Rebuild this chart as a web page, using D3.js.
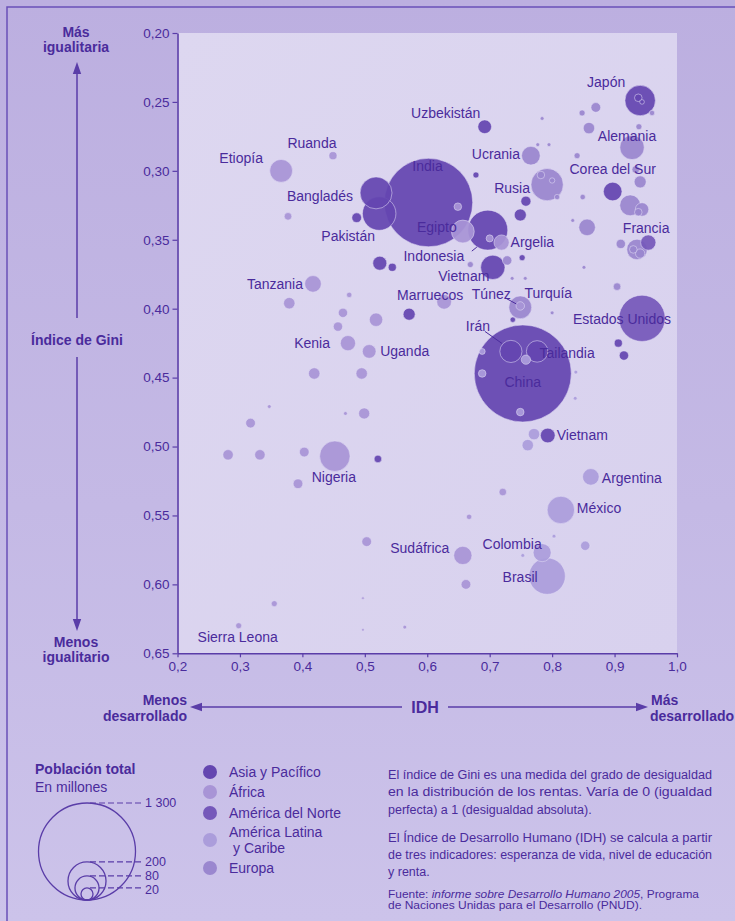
<!DOCTYPE html>
<html><head><meta charset="utf-8">
<script src="https://cdn.jsdelivr.net/npm/d3@7"></script>
<style>body{margin:0;background:#c4b9e4}svg{display:block}</style>
</head><body><svg id="chart" width="735" height="921"></svg>
<script>
// ---------- DATA ----------
const regionNames = ["Asia y Pacífico", "África", "América del Norte", "América Latina|y Caribe", "Europa"];
const regionColors = ["#6446b0", "#a894d6", "#7558ba", "#ab9ddb", "#9a87cf"];

// Labelled countries
const labeledNames  = ["Japón","Uzbekistán","Ruanda","Alemania","Etiopía","Ucrania","Corea del Sur","Bangladés","India","Rusia","Egipto","Francia","Pakistán","Argelia","Indonesia","Vietnam","Tanzania","Túnez","Turquía","Marruecos","Estados Unidos","Irán","Kenia","Uganda","Tailandia","China","Vietnam","Argentina","Nigeria","México","Sudáfrica","Colombia","Brasil","Sierra Leona"];
const labeledIdh    = [0.941,0.692,0.449,0.928,0.366,0.766,0.897,0.518,0.602,0.792,0.657,0.925,0.523,0.719,0.697,0.705,0.417,0.749,0.749,0.627,0.944,0.734,0.473,0.507,0.776,0.753,0.793,0.862,0.452,0.814,0.657,0.784,0.792,0.298];
const labeledGini   = [0.249,0.268,0.289,0.283,0.300,0.289,0.315,0.316,0.323,0.310,0.344,0.325,0.331,0.352,0.343,0.370,0.382,0.398,0.399,0.395,0.407,0.431,0.425,0.431,0.431,0.447,0.492,0.522,0.507,0.546,0.579,0.577,0.594,0.630];
const labeledPop    = [128,26,9,82,72,48,48,141,1080,144,72,60,155,32,220,82,38,10,72,30,295,68,32,26,64,1300,30,38,128,104,46,45,183,5];
const labeledRegion = [0,0,1,4,1,4,0,0,0,4,1,4,0,1,0,0,1,1,4,1,2,0,1,1,0,0,0,3,1,3,1,3,3,1];

// Unlabelled countries
const otherIdh    = [0.487,0.524,0.544,0.571,0.758,0.749,0.678,0.752,0.906,0.915,0.521,0.737,0.938,0.944,
                     0.954,
                     0.782,0.800,0.808,0.870,0.848,0.784,0.859,0.939,0.960,0.777,0.795,0.840,0.941,0.934,0.849,0.944,0.938,0.833,0.856,0.910,0.936,0.930,0.941,0.851,0.904,0.800,0.736,0.757,0.728,0.669,
                     0.377,0.379,0.475,0.465,0.457,0.518,0.419,0.495,0.347,0.317,0.469,0.499,0.281,0.332,0.403,0.393,0.503,0.662,0.667,0.355,0.497,0.497,0.564,0.649,0.700,0.721,
                     0.853,0.803,0.753,0.838,0.837,0.688,0.749,0.758,0.688,0.771,0.761];
const otherGini   = [0.334,0.367,0.370,0.404,0.322,0.332,0.303,0.363,0.425,0.434,0.509,0.408,0.247,0.250,
                     0.352,
                     0.303,0.307,0.319,0.254,0.258,0.262,0.269,0.268,0.258,0.281,0.281,0.289,0.308,0.299,0.319,0.328,0.330,0.336,0.341,0.353,0.357,0.357,0.360,0.370,0.384,0.403,0.378,0.378,0.365,0.368,
                     0.333,0.396,0.390,0.403,0.413,0.408,0.447,0.447,0.471,0.483,0.476,0.476,0.506,0.506,0.504,0.527,0.569,0.600,0.551,0.614,0.610,0.633,0.631,0.326,0.349,0.533,
                     0.572,0.565,0.579,0.446,0.465,0.447,0.475,0.437,0.431,0.491,0.499];
const otherPop    = [13,27,9,20,14,20,5,5,9,12,8,4,8,3,
                     32,
                     8,4,4,13,5,2,18,5,4,2,2,5,20,8,4,25,8,2,38,12,58,8,12,2,8,2,2,2,12,5,
                     8,18,4,12,12,25,18,18,2,13,2,17,15,15,13,13,13,13,4,5,1,1,2,8,7,8,
                     12,2,2,2,2,8,8,12,5,18,18];
const otherRegion = [0,0,0,0,0,0,0,0,0,0,0,0,0,0,
                     2,
                     4,4,4,4,4,4,4,4,4,4,4,4,4,4,4,4,4,4,4,4,4,4,4,4,4,4,4,4,4,4,
                     1,1,1,1,1,1,1,1,1,1,1,1,1,1,1,1,1,1,1,1,1,1,1,1,1,1,
                     3,3,3,3,3,3,3,3,3,3,3];

const xTicks = [0.2,0.3,0.4,0.5,0.6,0.7,0.8,0.9,1.0];
const yTicks = [0.20,0.25,0.30,0.35,0.40,0.45,0.50,0.55,0.60,0.65];
const legendSizes = [1300, 200, 80, 20];
const legendSizeLabels = ["1 300", "200", "80", "20"];

// ---------- LABEL PLACEMENT (pixel offsets from bubble centre) ----------
const labelDx     = [-34,-39,-21,-5,-40,-35,0,-56,-1,-35,-26,16,-31,9,-54,-29,-10,-29,28,-14,-20,-33,-18,11,30,0,9,11,-1,16,-43,-30,-27,-1];
const labelDy     = [-18,-14,-13,-11,-13,-2,-22,3,-36,3,-4,23,23,0,26,9,0,-12,-14,-7,1,-25,0,0,2,9,0,1,21,-2,-7,-9,1,11];
const labelAnchor = ["middle","middle","middle","middle","middle","middle","middle","middle","middle","middle","middle","middle","middle","start","middle","middle","end","middle","middle","middle","middle","middle","end","start","middle","middle","start","start","middle","start","middle","middle","middle","middle"];
// leader lines: [label index, x1, y1, x2, y2] offsets from bubble centre
const leaders = [[21,-26,-20,-9,-8],[17,-15,-8,-4,-2],[14,-16,21,-11,17]];

// ---------- DRAWING ----------
const svg = d3.select("#chart");
const W = 735, H = 921;
const TXT = "#4a2b9c", AX = "#5a3da8";
const FONT = "'Liberation Sans', Arial, Helvetica, sans-serif";

const defs = svg.append("defs");
const bg = defs.append("linearGradient").attr("id","bg").attr("x1",0).attr("y1",0).attr("x2",0).attr("y2",1);
bg.append("stop").attr("offset","0%").attr("stop-color","#bcafe0");
bg.append("stop").attr("offset","55%").attr("stop-color","#c4b9e5");
bg.append("stop").attr("offset","100%").attr("stop-color","#ccc3ea");
const pg = defs.append("linearGradient").attr("id","panel").attr("x1",0).attr("y1",0).attr("x2",1).attr("y2",1);
pg.append("stop").attr("offset","0%").attr("stop-color","#ddd7f0");
pg.append("stop").attr("offset","100%").attr("stop-color","#d8d1ee");
defs.append("marker").attr("id","arrow").attr("viewBox","0 0 10 10").attr("refX",5).attr("refY",5)
  .attr("markerWidth",8).attr("markerHeight",8).attr("orient","auto-start-reverse")
  .append("path").attr("d","M0,1.5 L10,5 L0,8.5 z").attr("fill",AX);

svg.append("rect").attr("width",W).attr("height",H).attr("fill","url(#bg)");
svg.append("path").attr("d",`M7,${H} L7,7 L${W},7`).attr("fill","none").attr("stroke","#6a50b8").attr("stroke-width",1.5);

const x = d3.scaleLinear().domain([0.2,1.0]).range([177.5,677]);
const y = d3.scaleLinear().domain([0.20,0.65]).range([33,653.3]);
const r = d3.scaleSqrt().domain([0,1300]).range([0,48.5]);

svg.append("rect").attr("x",x(0.2)).attr("y",y(0.20)).attr("width",x(1.0)-x(0.2)).attr("height",y(0.65)-y(0.20)).attr("fill","url(#panel)");

const loc = d3.formatLocale({decimal:",", thousands:" ", grouping:[3], currency:["",""]});

const gy = svg.append("g").attr("transform",`translate(${x(0.2)},0)`)
  .call(d3.axisLeft(y).tickValues(yTicks).tickFormat(loc.format(".2f")).tickSize(5).tickPadding(3).tickSizeOuter(0));
const gx = svg.append("g").attr("transform",`translate(0,${y(0.65)})`)
  .call(d3.axisBottom(x).tickValues(xTicks).tickFormat(loc.format(".1f")).tickSize(4).tickPadding(4).tickSizeOuter(0));
[gx, gy].forEach(g => {
  g.select(".domain").attr("stroke",AX).attr("stroke-width",1.6);
  g.selectAll(".tick line").attr("stroke",AX).attr("stroke-width",1.2);
  g.selectAll(".tick text").attr("fill",TXT).attr("font-family",FONT).attr("font-size",13.5);
});

// bubbles
const bubbles = [];
labeledNames.forEach((n,i) => bubbles.push({idh:labeledIdh[i], gini:labeledGini[i], pop:labeledPop[i], reg:labeledRegion[i]}));
otherIdh.forEach((v,i) => bubbles.push({idh:v, gini:otherGini[i], pop:otherPop[i], reg:otherRegion[i]}));
bubbles.sort((a,b) => b.pop - a.pop);
svg.append("g").selectAll("circle").data(bubbles).join("circle")
  .attr("cx", d => x(d.idh)).attr("cy", d => y(d.gini)).attr("r", d => r(d.pop))
  .attr("fill", d => regionColors[d.reg]).attr("fill-opacity", 0.93)
  .attr("stroke", "#e4ddf6").attr("stroke-opacity", 0.6).attr("stroke-width", 0.9);

// leader lines
svg.append("g").selectAll("line").data(leaders).join("line")
  .attr("x1", d => x(labeledIdh[d[0]]) + d[1]).attr("y1", d => y(labeledGini[d[0]]) + d[2])
  .attr("x2", d => x(labeledIdh[d[0]]) + d[3]).attr("y2", d => y(labeledGini[d[0]]) + d[4])
  .attr("stroke", TXT).attr("stroke-width", 1);

// labels
svg.append("g").selectAll("text").data(labeledNames).join("text")
  .attr("x", (d,i) => x(labeledIdh[i]) + labelDx[i])
  .attr("y", (d,i) => y(labeledGini[i]) + labelDy[i])
  .attr("dy", "0.35em").attr("text-anchor", (d,i) => labelAnchor[i])
  .attr("font-family", FONT).attr("font-size", 14).attr("fill", TXT)
  .text(d => d);

// axis titles
const bold = (t, px, py, anchor) => svg.append("text").attr("x",px).attr("y",py).attr("dy","0.35em")
  .attr("text-anchor",anchor).attr("font-family",FONT).attr("font-weight","bold").attr("font-size",14).attr("fill",TXT).text(t);
bold("Más", 76, 32, "middle"); bold("igualitaria", 76, 47, "middle");
bold("Índice de Gini", 77, 340, "middle");
bold("Menos", 76, 642, "middle"); bold("igualitario", 76, 657, "middle");
bold("Menos", 187, 700, "end"); bold("desarrollado", 187, 716, "end");
bold("Más", 651, 700, "start"); bold("desarrollado", 650, 716, "start");
svg.append("text").attr("x",425).attr("y",707).attr("dy","0.35em").attr("text-anchor","middle")
  .attr("font-family",FONT).attr("font-weight","bold").attr("font-size",16).attr("fill",TXT).text("IDH");

const arrow = (x1,y1,x2,y2) => svg.append("line").attr("x1",x1).attr("y1",y1).attr("x2",x2).attr("y2",y2)
  .attr("stroke",AX).attr("stroke-width",1.5).attr("marker-end","url(#arrow)");
arrow(77,318,77,68); arrow(77,357,77,625);
arrow(402,707,196,707); arrow(448,707,642,707);

// size legend
svg.append("text").attr("x",35).attr("y",769).attr("dy","0.35em").attr("font-family",FONT).attr("font-weight","bold")
  .attr("font-size",14).attr("fill",TXT).text("Población total");
svg.append("text").attr("x",35).attr("y",787).attr("dy","0.35em").attr("font-family",FONT)
  .attr("font-size",14).attr("fill",TXT).text("En millones");
const lcx = 87, lbot = 900;
const labelShift = [0, 0, -0.5, 1.5];
const sl = svg.append("g");
legendSizes.forEach((v,i) => {
  const rr = r(v);
  sl.append("circle").attr("cx",lcx).attr("cy",lbot-rr).attr("r",rr).attr("fill","none").attr("stroke",AX).attr("stroke-width",1.3);
  sl.append("line").attr("x1",lcx+3).attr("x2",142).attr("y1",lbot-2*rr).attr("y2",lbot-2*rr)
    .attr("stroke",AX).attr("stroke-width",1.2).attr("stroke-dasharray","6,3");
  sl.append("text").attr("x",145).attr("y",lbot-2*rr+labelShift[i]).attr("dy","0.35em").attr("font-family",FONT)
    .attr("font-size",12.5).attr("fill",TXT).text(legendSizeLabels[i]);
});

// colour legend
const legY = [772, 792, 813, 840, 868];
regionNames.forEach((n,i) => {
  svg.append("circle").attr("cx",210).attr("cy",legY[i]).attr("r",7).attr("fill",regionColors[i]);
  const parts = n.split("|");
  parts.forEach((p,j) => {
    svg.append("text").attr("x", j ? 233 : 229).attr("y", legY[i] + (parts.length>1 ? (j ? 8 : -8) : 0)).attr("dy","0.35em")
      .attr("font-family",FONT).attr("font-size",14).attr("fill",TXT).text(p);
  });
});

// explanatory text (justified lines stretched to the column width)
const notes = [
  ["El índice de Gini es una medida del grado de desigualdad", 779, 324],
  ["en la distribución de los rentas. Varía de 0 (igualdad", 796, 324],
  ["perfecta) a 1 (desigualdad absoluta).", 814, 0],
  ["El Índice de Desarrollo Humano (IDH) se calcula a partir", 842, 324],
  ["de tres indicadores: esperanza de vida, nivel de educación", 859, 324],
  ["y renta.", 876, 0]
];
notes.forEach(([t, by, len]) => {
  const tx = svg.append("text").attr("x",388).attr("y",by).attr("font-family",FONT).attr("font-size",12.5).attr("fill",TXT).text(t);
  if (len) tx.attr("textLength",len).attr("lengthAdjust","spacingAndGlyphs");
});
const src1 = svg.append("text").attr("x",388).attr("y",898).attr("font-family",FONT).attr("font-size",11).attr("fill",TXT)
  .attr("textLength",311).attr("lengthAdjust","spacingAndGlyphs");
src1.append("tspan").text("Fuente: ");
src1.append("tspan").attr("font-style","italic").text("informe sobre Desarrollo Humano 2005");
src1.append("tspan").text(", Programa");
svg.append("text").attr("x",388).attr("y",909).attr("font-family",FONT).attr("font-size",11).attr("fill",TXT)
  .attr("textLength",254).attr("lengthAdjust","spacingAndGlyphs").text("de Naciones Unidas para el Desarrollo (PNUD).");
</script></body></html>
